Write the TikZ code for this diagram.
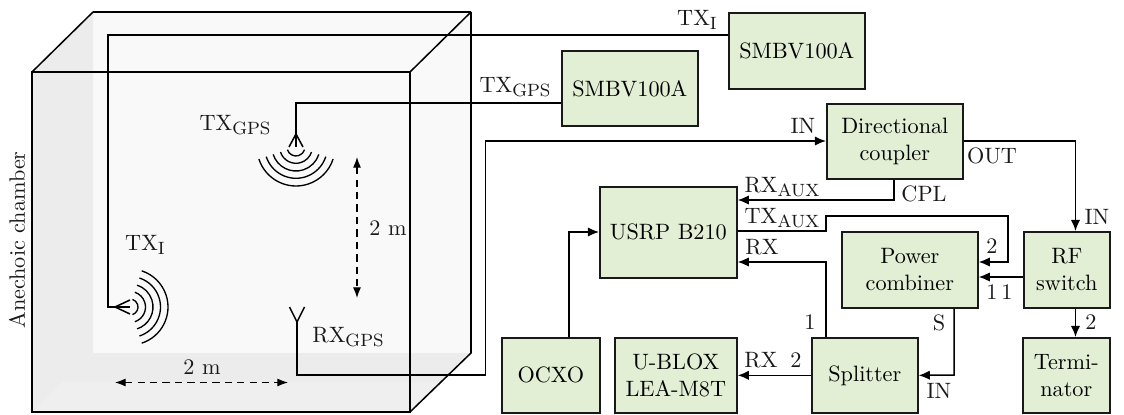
\documentclass[tikz,border=0pt]{standalone}
\usetikzlibrary{arrows.meta}
\definecolor{blockgreen}{HTML}{E2EFD5}
\definecolor{wallgray}{HTML}{ECECEC}
\definecolor{floorgray}{HTML}{EFEFEF}
\definecolor{backgray}{HTML}{F9F9F9}
\tikzset{
  x=0.45pt,y=-0.45pt,
  block/.style={draw=black!90,line width=0.75pt,fill=blockgreen,align=center,inner sep=0pt,anchor=north west},
  wire/.style={draw=black,line width=0.68pt},
  arr/.style={wire,-{Latex[length=5pt,width=4.2pt]}},
  dasharr/.style={line width=0.5pt,dash pattern=on 3.3pt off 2.3pt,{Latex[length=4.8pt,width=3.6pt]}-{Latex[length=4.8pt,width=3.6pt]}},
  wave/.style={line width=0.6pt},
  lab/.style={inner sep=0pt,text=black!90},
}
\newcommand{\subx}[1]{\raisebox{-1.5pt}{\fontsize{8}{8}\selectfont #1}}
\newcommand{\bx}[6]{\node[block,minimum width=#4*0.45pt,minimum height=#5*0.45pt] (#1) at (#2,#3) {#6};}
\begin{document}
\begin{tikzpicture}
\useasboundingbox (0,0) rectangle (1124,415);
% chamber
\fill[backgray] (93,12) rectangle (471,353);
\fill[wallgray] (32,72) -- (93,12) -- (93,353) -- (32,412) -- cycle;
\fill[wallgray] (32,412) -- (93,353) -- (471,353) -- (410,412) -- cycle;
\fill[floorgray] (32,412) -- (62,382) -- (440,382) -- (410,412) -- cycle;
\draw[wire] (471,12) -- (471,353) -- (410,412);
\draw[wire] (93,12) -- (471,12);
\draw[wire] (32,72) -- (93,12);
\draw[wire] (410,72) -- (471,12);
\draw[wire,line width=0.75pt] (32,72) rectangle (410,412);
\node[lab,rotate=90] (chamber) at (17,240) {Anechoic chamber};
% blocks
\bx{smbvb}{728}{12}{136}{76}{SMBV100A}
\bx{smbva}{561}{50}{136}{75}{SMBV100A}
\bx{coupler}{826}{103}{136}{75}{Directional\\coupler}
\bx{usrp}{599}{186}{137}{91}{USRP B210}
\bx{combiner}{841}{231}{136}{76}{Power\\combiner}
\bx{rfsw}{1023}{231}{86}{76}{RF\\switch}
\bx{ocxo}{501}{337}{98}{75}{OCXO}
\bx{ublox}{614}{337}{122}{75}{U-BLOX\\LEA-M8T}
\bx{split}{811}{337}{106}{75}{Splitter}
\bx{term}{1022}{337}{87}{75}{Termi-\\nator}
% antenna coordinates
\coordinate (txi) at (130,307);
\coordinate (txg) at (296,147);
\coordinate (rxg) at (297,322);
% TX_I
\draw[wire] (smbvb.west |- 0,35) -- (108,35) -- (108,307) -- (txi);
\draw[wire] (130,300) -- (115,307) -- (130,314);
\foreach \r in {8,15.5,23,30.5,38}{\draw[wave] (txi) ++(-72:\r*0.45pt) arc[start angle=-72,end angle=72,radius=\r*0.45pt];}
% TX_GPS
\draw[wire] (smbva.west |- 0,103) -- (296,103) -- (txg);
\draw[wire] (289,147) -- (296,134) -- (303,147);
\foreach \r in {9,16.3,24,31.3,39}{\draw[wave] (txg) ++(-162:\r*0.45pt) arc[start angle=-162,end angle=-18,radius=\r*0.45pt];}
% RX_GPS
\draw[wire] (289.5,307) -- (rxg) -- (304.5,307);
\draw[arr] (rxg) -- (297,375) -- (485.5,375) -- (485.5,141) -- (coupler.west |- 0,141);
% dashed
\coordinate (da) at (357,157);
\coordinate (db) at (357,298);
\coordinate (dc) at (115,382.5);
\coordinate (dd) at (288,382.5);
\draw[dasharr] (da) -- (db);
\draw[dasharr] (dc) -- (dd);
% connectors
\draw[arr] (coupler.east |- 0,141) -- (1075.5,141) -- (rfsw.north -| 1075.5,0);
\draw[arr] (coupler.south -| 894,0) -- (894,200) -- (usrp.east |- 0,200);
\draw[arr] (usrp.east |- 0,231) -- (826,231) -- (826,216) -- (1008,216) -- (1008,262) -- (combiner.east |- 0,262);
\draw[arr] (split.north -| 826,0) -- (826,262) -- (usrp.east |- 0,262);
\draw[arr] (split.west) -- (ublox.east);
\draw[arr] (ocxo.north -| 569,0) -- (569,232) -- (usrp.west |- 0,232);
\draw[arr] (rfsw.west |- 0,277) -- (combiner.east |- 0,277);
\draw[arr] (combiner.south -| 954,0) -- (954,375) -- (split.east);
\draw[arr] (rfsw.south -| 1075.5,0) -- (term.north -| 1075.5,0);
% labels
\node[lab] (l1) at (145,245) {TX\subx{I}};
\node[lab] (l2) at (235,125) {TX\subx{GPS}};
\node[lab] (l3) at (348,337) {RX\subx{GPS}};
\node[lab] (l4) at (697,20) {TX\subx{I}};
\node[lab] (l5) at (515,87) {TX\subx{GPS}};
\node[lab] (l6) at (803,126) {IN};
\node[lab] (l7) at (992,156) {OUT};
\node[lab] (l8) at (1097,217) {IN};
\node[lab] (l9) at (924,194) {CPL};
\node[lab] (l10) at (782,187) {RX\subx{AUX}};
\node[lab] (l11) at (782,218) {TX\subx{AUX}};
\node[lab] (l12) at (762,247) {RX};
\node[lab] (l13) at (992,246) {2};
\node[lab] (l14) at (810,322) {1};
\node[lab] (l15) at (761,360) {RX};
\node[lab] (l16) at (796,360) {2};
\node[lab] (l17) at (992,292) {1};
\node[lab] (l18) at (1007,292) {1};
\node[lab] (l19) at (939,323) {S};
\node[lab] (l20) at (939,391) {IN};
\node[lab] (l21) at (1091,322) {2};
\node[lab] (l22) at (388,228) {2 m};
\node[lab] (l23) at (202,367) {2 m};
\end{tikzpicture}
\end{document}
